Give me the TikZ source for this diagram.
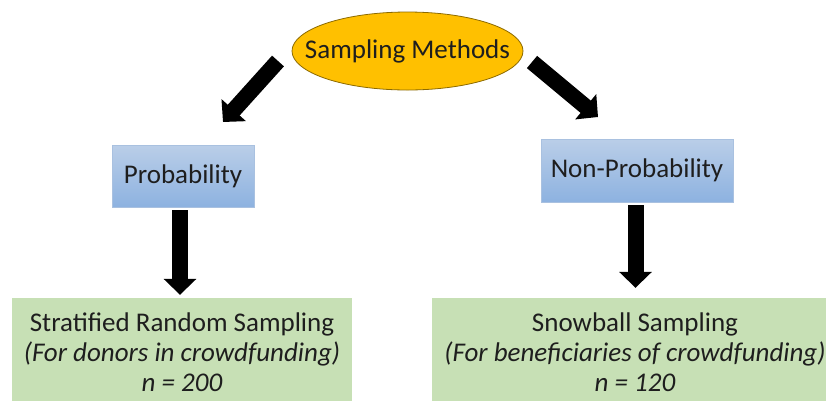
\documentclass[tikz,border=0pt]{standalone}
\usepackage{fontspec}
\setmainfont{Carlito}
\usetikzlibrary{arrows.meta,shapes.geometric}
\definecolor{ellfill}{HTML}{FFC000}
\definecolor{elldraw}{HTML}{8C6A00}
\definecolor{bluetop}{HTML}{BACEE8}
\definecolor{bluebot}{HTML}{8DB2E0}
\definecolor{blueline}{HTML}{A9C1E0}
\definecolor{greenfill}{HTML}{C7E0B5}
\definecolor{txt}{HTML}{1E1E1E}
\begin{document}
\begin{tikzpicture}[x=1pt,y=-1pt,
  ovalbox/.style={ellipse, draw=elldraw, line width=0.8pt, fill=ellfill, minimum width=231pt, minimum height=78pt, inner xsep=-22pt, inner ysep=0pt, font=\fontsize{27}{30}\selectfont, text=txt},
  catbox/.style={rectangle, draw=blueline, line width=0.8pt, top color=bluetop, bottom color=bluebot, minimum height=62pt, inner sep=0pt, font=\fontsize{27}{30}\selectfont, text=txt},
  methbox/.style={rectangle, fill=greenfill, inner sep=0pt, align=center, minimum height=109pt, font=\fontsize{27}{30}\selectfont, text=txt},
  bigarrow/.style={line width=16pt, black, -{Triangle[length=16pt, width=32pt]}}
]
\path[use as bounding box, clip] (0,0) rectangle (826,400);
\node[ovalbox] (sm) at (407.5,51) {Sampling Methods};
\node[catbox, minimum width=142pt] (prob) at (183,176) {Probability};
\node[catbox, minimum width=192pt, minimum height=63pt] (nonprob) at (637,170.5) {Non-Probability};
\node[methbox, minimum width=340pt] (strat) at (182,352.5) {Stratified Random Sampling\\\textit{(For donors in crowdfunding)}\\\textit{n = 200}};
\node[methbox, minimum width=406pt] (snow) at (635,352.5) {Snowball Sampling\\\textit{(For beneficiaries of crowdfunding)}\\\textit{n = 120}};
\coordinate (l1) at (278,61);
\coordinate (l2) at (223,122);
\coordinate (r1) at (532,62);
\coordinate (r2) at (598,117);
\draw[bigarrow] (l1) -- (l2);
\draw[bigarrow] (r1) -- (r2);
\draw[bigarrow, shorten <=3pt, shorten >=3pt] ([xshift=-3pt]prob.south) -- ([xshift=-3pt]prob.south |- strat.north);
\draw[bigarrow, shorten <=3pt, shorten >=10pt] ([xshift=-1.5pt]nonprob.south) -- ([xshift=-1.5pt]nonprob.south |- snow.north);
\end{tikzpicture}
\end{document}
